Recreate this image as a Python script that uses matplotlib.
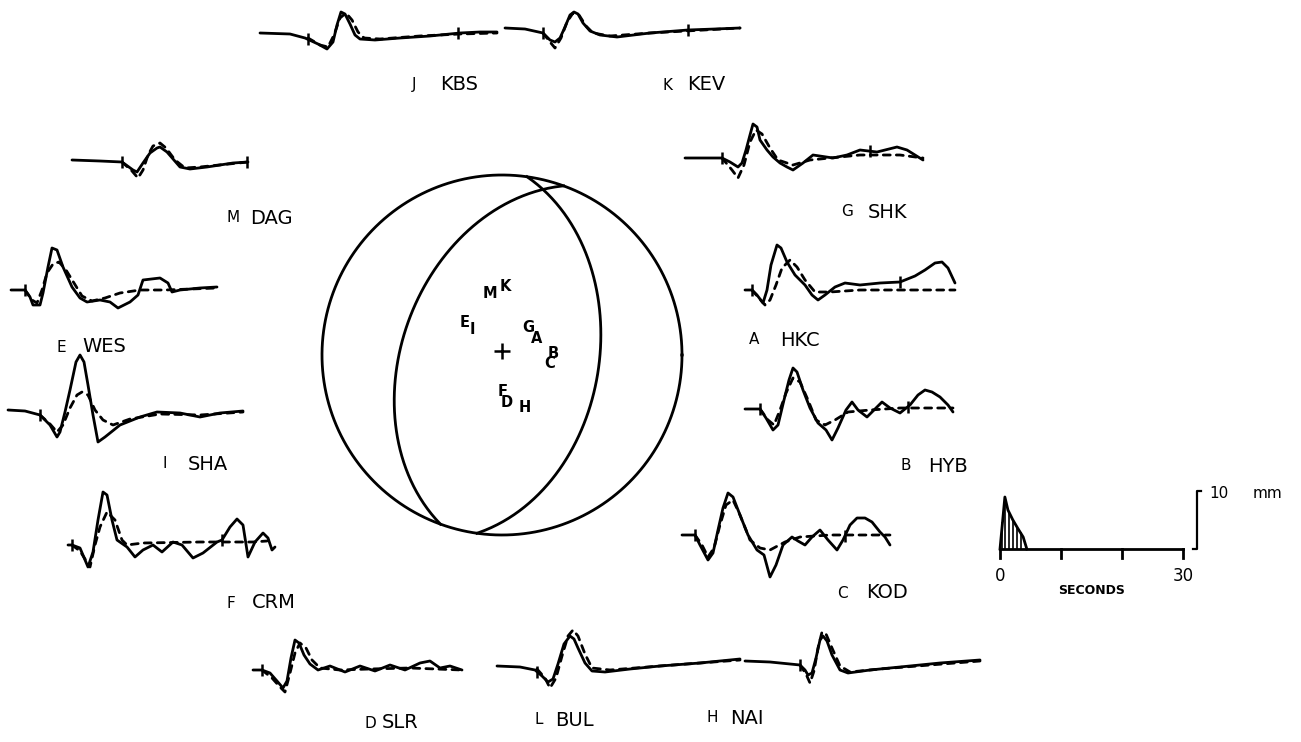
import numpy as np
import matplotlib
matplotlib.use("Agg")
import matplotlib.pyplot as plt

# ---------------- waveform data (time offset, amplitude; up = positive) -------------
kbs_obs_t = [0,30,45,58,67,73,77,81,85,90,95,100,115,140,170,200,220,237]
kbs_obs_a = [0,-1,-5,-11,-16,-9,8,21,19,9,-2,-6,-7,-5,-3,0,1,1]
kbs_syn_t = [48,60,68,74,80,86,92,98,104,120,160,200,237]
kbs_syn_a = [-5,-12,-14,-2,15,20,13,1,-5,-6,-3,-1,0]
kbs_ticks = [48,198]

kev_obs_t = [0,20,38,45,50,55,60,65,69,73,78,85,95,112,145,183,210,235]
kev_obs_a = [0,-1,-5,-12,-14,-10,1,13,16,14,5,-3,-7,-9,-5,-2,-1,0]
kev_syn_t = [38,45,50,56,62,68,74,81,88,105,145,235]
kev_syn_a = [-5,-14,-20,-10,6,15,13,2,-5,-8,-5,0]
kev_ticks = [38,183]

dag_obs_t = [0,28,50,61,65,71,78,85,88,95,108,118,135,161,176]
dag_obs_a = [0,-1,-2,-10,-12,-3,7,12,13,8,-7,-9,-7,-3,-2]
dag_syn_t = [50,60,66,71,76,81,88,94,103,113,128,176]
dag_syn_a = [-2,-11,-18,-10,5,14,17,12,0,-8,-7,-2]
dag_ticks = [50,175]

wes_obs_t = [0,14,19,22,29,32,37,41,46,52,61,69,76,89,99,107,119,127,132,149,157,161,169,189,206]
wes_obs_a = [0,0,-7,-15,-15,-3,23,42,40,23,3,-8,-12,-10,-12,-18,-12,-5,10,12,7,-2,0,2,3]
wes_syn_t = [14,21,26,31,36,42,48,55,63,71,81,94,109,129,154,206]
wes_syn_a = [0,-10,-13,0,17,26,28,20,7,-6,-11,-8,-3,0,0,2]
wes_ticks = [14]

sha_obs_t = [0,17,32,42,49,52,57,62,68,72,76,80,85,90,97,112,132,149,172,192,212,235]
sha_obs_a = [0,-1,-5,-15,-27,-22,-2,20,48,55,48,25,-5,-32,-27,-15,-7,-2,-3,-7,-3,-1]
sha_syn_t = [32,42,49,55,62,69,74,80,87,95,105,122,152,192,235]
sha_syn_a = [-5,-14,-22,-15,2,15,18,15,0,-10,-15,-9,-4,-5,-2]
sha_ticks = [32]

crm_obs_t = [0,4,12,20,25,30,35,39,44,49,59,67,75,85,94,105,114,125,135,149,154,162,169,175,180,187,195,200,204,207]
crm_obs_a = [-1,-1,-4,-23,-8,24,52,49,24,4,-3,-13,-6,-1,-8,2,-1,-14,-9,2,4,17,25,19,-13,2,11,6,-6,-3]
crm_syn_t = [4,12,22,27,32,39,47,54,59,75,132,185,199]
crm_syn_a = [-1,-7,-23,-1,17,32,24,4,-1,1,2,2,3]
crm_ticks = [4,154]

shk_obs_t = [0,20,37,45,53,57,61,65,68,72,75,82,88,95,102,108,118,128,148,162,175,192,212,222,230,238]
shk_obs_a = [0,0,0,-4,-9,-5,8,23,34,31,18,8,1,-5,-9,-12,-5,3,0,3,8,6,11,8,3,-2]
shk_syn_t = [37,47,53,59,65,71,77,85,93,108,125,145,175,215,238]
shk_syn_a = [0,-12,-20,-7,16,28,24,10,-2,-7,-2,0,3,3,0]
shk_ticks = [37,185]

hkc_obs_t = [0,7,12,18,22,26,32,36,42,50,60,67,73,80,90,100,115,135,155,170,180,190,197,203,210]
hkc_obs_a = [0,0,-5,-13,0,25,45,42,28,15,5,-5,-10,-5,3,7,5,7,8,14,20,27,28,22,7]
hkc_syn_t = [7,13,20,25,31,37,45,52,60,70,85,115,155,210]
hkc_syn_a = [0,-7,-15,-10,5,22,30,23,10,-2,-2,0,0,0]
hkc_ticks = [7,155]

hyb_obs_t = [0,15,21,28,33,39,44,48,52,58,65,73,81,87,93,101,107,113,122,129,137,145,155,165,173,180,187,195,203,208]
hyb_obs_a = [0,0,-9,-21,-16,9,29,41,37,19,1,-14,-21,-31,-19,-1,7,-1,-8,-1,7,1,-4,4,14,19,17,12,4,-3]
hyb_syn_t = [15,23,29,35,41,48,55,63,71,80,90,103,125,155,208]
hyb_syn_a = [0,-11,-16,-1,16,31,27,9,-11,-16,-11,-3,-1,1,1]
hyb_ticks = [15,163]

kod_obs_t = [0,13,18,26,31,36,41,46,51,58,66,75,82,88,94,101,110,116,123,130,138,146,155,161,168,175,183,190,198,203,208]
kod_obs_a = [0,0,-10,-25,-18,5,27,42,38,20,0,-15,-20,-42,-30,-10,-2,-6,-10,-2,5,-5,-15,-5,10,17,17,13,3,-2,-10]
kod_syn_t = [13,20,26,32,38,44,51,58,68,78,88,103,118,148,178,208]
kod_syn_a = [0,-10,-22,-13,10,30,35,20,-5,-13,-15,-7,-2,0,0,0]
kod_ticks = [13,163]

slr_obs_t = [0,9,17,24,30,34,38,42,46,51,57,65,77,92,107,122,137,152,167,177,187,197,209]
slr_obs_a = [0,0,-3,-11,-18,-11,12,30,27,15,6,0,4,-2,4,-1,5,0,7,9,2,4,0]
slr_syn_t = [9,19,27,32,37,42,47,53,59,67,87,117,157,209]
slr_syn_a = [0,-8,-17,-22,-3,17,27,22,10,2,0,1,2,0]
slr_ticks = [9]

bul_obs_t = [0,23,38,45,51,56,61,67,73,77,81,88,95,108,133,163,203,243]
bul_obs_a = [0,-1,-4,-10,-16,-13,2,22,30,27,18,3,-5,-6,-3,0,3,7]
bul_syn_t = [40,48,53,59,65,71,76,81,88,95,113,163,243]
bul_syn_a = [-3,-12,-22,-12,10,30,36,30,12,-2,-4,0,6]
bul_ticks = [40]

nai_obs_t = [0,25,45,55,60,63,67,71,75,78,82,87,95,103,125,155,195,235]
nai_obs_a = [1,0,-2,-3,-8,-13,-11,4,22,26,21,7,-8,-11,-8,-5,-1,2]
nai_syn_t = [55,61,65,69,73,77,81,87,95,105,135,235]
nai_syn_a = [-3,-12,-21,-9,14,30,28,14,-4,-10,-7,1]
nai_ticks = [55]

# station codes and letters
station_codes = ["KBS","KEV","DAG","WES","SHA","CRM","SHK","HKC","HYB","KOD","SLR","BUL","NAI"]
station_letters = ["J","K","M","E","I","F","G","A","B","C","D","L","H"]

# focal mechanism (strike, dip) of the two nodal planes
plane_strikes = [200, 8]
plane_dips = [44, 45]

# projected station letters on the sphere (east, north in units of radius)
ball_letters = ["M","K","E","I","G","A","B","C","F","D","H"]
ball_east  = [-0.067, 0.017, -0.206, -0.167, 0.144, 0.194, 0.285, 0.262, 0.006, 0.028, 0.128]
ball_north = [0.344, 0.378, 0.178, 0.139, 0.150, 0.094, 0.008, -0.050, -0.205, -0.262, -0.289]

# source time function (seconds, normalised moment rate)
stf_t = [0, 0.4, 0.8, 1.3, 2.1, 2.9, 3.8, 4.4]
stf_a = [0, 0.5, 1.0, 0.75, 0.56, 0.40, 0.23, 0]
stf_hatch_t = [0.4, 0.9, 1.5, 2.1, 2.8, 3.4]
stf_axis_ticks = [0, 10, 20, 30]

# ---------------- layout (pixels of a 1301x742 canvas) ----------------
W, H = 1301, 742
origins = {
    "KBS": (260, 33), "KEV": (505, 28), "DAG": (72, 160), "WES": (11, 290),
    "SHA": (8, 410), "CRM": (68, 544), "SHK": (685, 158), "HKC": (745, 290),
    "HYB": (745, 409), "KOD": (682, 535), "SLR": (253, 670), "BUL": (497, 666),
    "NAI": (745, 662),
}
label_pos = {  # (x of letter, x of code, y)
    "KBS": (412, 440, 85), "KEV": (663, 687, 85), "DAG": (227, 250, 218),
    "WES": (57, 82, 347), "SHA": (162, 188, 464), "CRM": (227, 252, 603),
    "SHK": (841, 868, 212), "HKC": (749, 780, 340), "HYB": (901, 928, 466),
    "KOD": (837, 866, 593), "SLR": (364, 382, 723), "BUL": (534, 555, 720),
    "NAI": (707, 730, 718),
}
ball_cx, ball_cy, ball_r = 502, 355, 180
stf_x0, stf_y0, stf_px_s, stf_px_amp = 1000, 549, 6.1, 52
bar_x, bar_top, bar_bot = 1197, 491, 549

traces = {
    "KBS": (kbs_obs_t, kbs_obs_a, kbs_syn_t, kbs_syn_a, kbs_ticks),
    "KEV": (kev_obs_t, kev_obs_a, kev_syn_t, kev_syn_a, kev_ticks),
    "DAG": (dag_obs_t, dag_obs_a, dag_syn_t, dag_syn_a, dag_ticks),
    "WES": (wes_obs_t, wes_obs_a, wes_syn_t, wes_syn_a, wes_ticks),
    "SHA": (sha_obs_t, sha_obs_a, sha_syn_t, sha_syn_a, sha_ticks),
    "CRM": (crm_obs_t, crm_obs_a, crm_syn_t, crm_syn_a, crm_ticks),
    "SHK": (shk_obs_t, shk_obs_a, shk_syn_t, shk_syn_a, shk_ticks),
    "HKC": (hkc_obs_t, hkc_obs_a, hkc_syn_t, hkc_syn_a, hkc_ticks),
    "HYB": (hyb_obs_t, hyb_obs_a, hyb_syn_t, hyb_syn_a, hyb_ticks),
    "KOD": (kod_obs_t, kod_obs_a, kod_syn_t, kod_syn_a, kod_ticks),
    "SLR": (slr_obs_t, slr_obs_a, slr_syn_t, slr_syn_a, slr_ticks),
    "BUL": (bul_obs_t, bul_obs_a, bul_syn_t, bul_syn_a, bul_ticks),
    "NAI": (nai_obs_t, nai_obs_a, nai_syn_t, nai_syn_a, nai_ticks),
}

fig = plt.figure(figsize=(W / 100, H / 100), dpi=100)
ax = fig.add_axes([0, 0, 1, 1])
ax.set_xlim(0, W)
ax.set_ylim(H, 0)
ax.axis("off")

LW = 2.0
for code, letter in zip(station_codes, station_letters):
    ot, oa, st, sa, tk = traces[code]
    x0, y0 = origins[code]
    ot, oa, st, sa = map(np.asarray, (ot, oa, st, sa))
    ax.plot(x0 + st, y0 - sa, color="black", lw=LW, ls=(0, (2.5, 2.2)),
            solid_joinstyle="round", dash_capstyle="round")
    ax.plot(x0 + ot, y0 - oa, color="black", lw=LW, solid_joinstyle="round",
            solid_capstyle="round")
    tk = np.asarray(tk, float)
    ax.plot(x0 + tk, y0 - np.interp(tk, ot, oa), ls="none", marker="|",
            ms=9, mew=1.8, color="black")
    lx, cx, ly = label_pos[code]
    ax.text(lx, ly, letter, fontsize=11, ha="left", va="center",
            family="DejaVu Sans")
    ax.text(cx, ly, code, fontsize=14, ha="left", va="center",
            family="DejaVu Sans")

# ---------------- focal sphere ----------------
th = np.linspace(0, 2 * np.pi, 400)
ax.plot(ball_cx + ball_r * np.cos(th), ball_cy + ball_r * np.sin(th),
        color="black", lw=LW)


def plane_curve(strike, dip, n=200):
    phi = np.radians(strike)
    dl = np.radians(dip)
    s = np.array([np.sin(phi), np.cos(phi), 0.0])
    dd = phi + np.pi / 2
    d = np.array([np.cos(dl) * np.sin(dd), np.cos(dl) * np.cos(dd), np.sin(dl)])
    lam = np.linspace(0, np.pi, n)
    v = np.outer(np.cos(lam), s) + np.outer(np.sin(lam), d)
    plunge = np.arcsin(np.clip(v[:, 2], -1, 1))
    trend = np.arctan2(v[:, 0], v[:, 1])
    rr = np.sqrt(2) * np.sin((np.pi / 2 - plunge) / 2)
    return rr * np.sin(trend), rr * np.cos(trend)


for stk, dp in zip(plane_strikes, plane_dips):
    e, nn = plane_curve(stk, dp)
    ax.plot(ball_cx + ball_r * e, ball_cy - ball_r * nn, color="black", lw=LW)

ax.plot(ball_cx, ball_cy - 4, marker="+", ms=11, mew=1.8, color="black")
for lt, e, nn in zip(ball_letters, ball_east, ball_north):
    ax.text(ball_cx + ball_r * e, ball_cy - ball_r * nn, lt, fontsize=10.5,
            ha="center", va="center", fontweight="bold", family="DejaVu Sans")

# ---------------- source time function ----------------
st_t = np.asarray(stf_t)
st_a = np.asarray(stf_a)
ax.plot(stf_x0 + st_t * stf_px_s, stf_y0 - st_a * stf_px_amp, color="black", lw=LW)
for ht in stf_hatch_t:
    ax.plot([stf_x0 + ht * stf_px_s] * 2,
            [stf_y0, stf_y0 - np.interp(ht, st_t, st_a) * stf_px_amp],
            color="black", lw=1.2)
ax.plot([stf_x0, stf_x0 + 30 * stf_px_s], [stf_y0, stf_y0], color="black", lw=LW)
for tt in stf_axis_ticks:
    ax.plot([stf_x0 + tt * stf_px_s] * 2, [stf_y0, stf_y0 + 9], color="black", lw=LW)
ax.text(stf_x0, stf_y0 + 27, "0", fontsize=12, ha="center", va="center")
ax.text(stf_x0 + 30 * stf_px_s, stf_y0 + 27, "30", fontsize=12, ha="center", va="center")
ax.text(stf_x0 + 15 * stf_px_s, stf_y0 + 41, "SECONDS", fontsize=9, ha="center",
        va="center", fontweight="bold")

# amplitude scale bar
ax.plot([bar_x - 4, bar_x, bar_x, bar_x + 4], [bar_bot, bar_bot, bar_top, bar_top],
        color="black", lw=1.6)
ax.text(bar_x + 12, bar_top + 3, "10", fontsize=11, ha="left", va="center")
ax.text(bar_x + 56, bar_top + 3, "mm", fontsize=11, ha="left", va="center")

fig.savefig("out.png", dpi=100, facecolor="white")
